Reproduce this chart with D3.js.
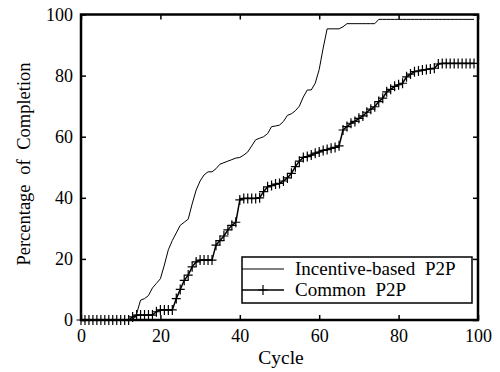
<!DOCTYPE html>
<html>
<head>
<meta charset="utf-8">
<script src="https://cdn.jsdelivr.net/npm/d3@7"></script>
<style>
	body { margin: 0; background: #fff; }
</style>
</head>
<body>
<svg id="chart" width="500" height="372"></svg>
<script>

// cycles 0..99
var cycles = d3.range(0, 100);

var incentiveValues = [
	0, 0, 0, 0, 0, 0, 0, 0, 0, 0,
	0, 0, 0, 0, 2, 6.5, 7, 8, 10.5, 12,
	13.5, 18, 23, 26, 28.5, 31, 32, 33, 38, 42.5,
	45.5, 47.5, 48.5, 48.5, 49.5, 51, 51.5, 52, 52.5, 53,
	53.2, 54, 55, 57, 59, 59.5, 60, 61, 63.3, 63.5,
	63.8, 65, 67, 67.5, 68.5, 70, 73, 75.3, 75.3, 77.5,
	82, 89, 95.3, 95.3, 95.3, 95.3, 96, 97, 97, 97,
	97, 97, 97, 97, 97, 98.4, 98.4, 98.4, 98.4, 98.4,
	98.4, 98.4, 98.4, 98.4, 98.4, 98.4, 98.4, 98.4, 98.4, 98.4,
	98.4, 98.4, 98.4, 98.4, 98.4, 98.4, 98.4, 98.4, 98.4, 98.4
];

var commonValues = [
	0, 0, 0, 0, 0, 0, 0, 0, 0, 0,
	0, 0, 0, 1, 1.6, 1.6, 1.6, 1.6, 1.6, 2.7,
	3.3, 3.3, 3.3, 3.3, 7, 10, 13, 14.7, 17.4, 19,
	19.6, 19.6, 19.6, 19.6, 24.5, 26, 27.5, 29.5, 31, 32,
	39.3, 39.8, 39.8, 39.8, 39.8, 40, 42, 43.6, 44, 44.5,
	44.7, 45.5, 46.5, 48, 50.2, 52, 53.2, 53.5, 54, 54.6,
	55, 55.5, 55.8, 56.2, 56.5, 57, 62.2, 63.3, 64.4, 65,
	66, 66.8, 68, 69, 69.8, 71.5, 72.6, 74.7, 75.5, 76.5,
	77, 77.5, 79.6, 80.5, 81.3, 81.5, 81.8, 82, 82.2, 82.4,
	83.8, 84, 84, 84, 84, 84, 84, 84, 84, 84
];

var seriesNames = ["Incentive-based P2P", "Common P2P"];
var xTicks = [0, 20, 40, 60, 80, 100];
var yTicks = [0, 20, 40, 60, 80, 100];

var serif = "'Liberation Serif', 'Times New Roman', Times, 'DejaVu Serif', serif";

renderChart("#chart");

function renderChart(element) {

	var svg = d3.select(element);

	var pLeft = 81, pRight = 478, pTop = 14.5, pBottom = 320;

	var x = d3.scaleLinear().domain([0, 100]).range([pLeft, pRight]);
	var y = d3.scaleLinear().domain([0, 100]).range([pBottom, pTop]);

	function styleTicks(g) {
		g.attr("font-family", null).attr("font-size", null);
		g.select(".domain").remove();
		g.selectAll("text").style("font-size", "18px").style("font-family", serif).attr("fill", "#000");
		g.selectAll("line").attr("stroke-width", 1.5);
	}

	// axes: bottom/left labelled, top/right ticks only, all ticks inward
	svg.append("g")
		.attr("transform", "translate(0," + pBottom + ")")
		.call(d3.axisBottom(x).tickValues(xTicks).tickSize(-5).tickPadding(9).tickFormat(d3.format("d")))
		.call(styleTicks);

	svg.append("g")
		.attr("transform", "translate(" + pLeft + ",0)")
		.call(d3.axisLeft(y).tickValues(yTicks).tickSize(-5).tickPadding(8).tickFormat(d3.format("d")))
		.call(styleTicks);

	svg.append("g")
		.attr("transform", "translate(0," + pTop + ")")
		.call(d3.axisTop(x).tickValues(xTicks).tickSize(-5).tickFormat(""))
		.call(styleTicks);

	svg.append("g")
		.attr("transform", "translate(" + pRight + ",0)")
		.call(d3.axisRight(y).tickValues(yTicks).tickSize(-5).tickFormat(""))
		.call(styleTicks);

	// lines
	var line = d3.line()
		.x(function(d, i) { return x(cycles[i]); })
		.y(function(d) { return y(d); });

	svg.append("path")
		.datum(incentiveValues)
		.attr("d", line)
		.attr("fill", "none")
		.attr("stroke", "#000")
		.attr("stroke-width", 1);

	svg.append("path")
		.datum(commonValues)
		.attr("d", line)
		.attr("fill", "none")
		.attr("stroke", "#000")
		.attr("stroke-width", 1.5);

	svg.append("g")
		.selectAll("path")
		.data(commonValues)
		.enter()
		.append("path")
		.attr("d", function(d, i) { return plusPath(x(cycles[i]), y(d), 4.5, 5); })
		.attr("stroke", "#000")
		.attr("stroke-width", 1.2);

	// frame
	svg.append("rect")
		.attr("x", pLeft)
		.attr("y", pTop)
		.attr("width", pRight - pLeft)
		.attr("height", pBottom - pTop)
		.attr("fill", "none")
		.attr("stroke", "#000")
		.attr("stroke-width", 2.5);

	// legend
	var legend = svg.append("g");

	legend.append("rect")
		.attr("x", 242)
		.attr("y", 257)
		.attr("width", 230)
		.attr("height", 46)
		.attr("fill", "#fff")
		.attr("stroke", "#000")
		.attr("stroke-width", 1.5);

	var rowY = [269, 290];

	legend.append("line")
		.attr("x1", 242).attr("x2", 284)
		.attr("y1", rowY[0]).attr("y2", rowY[0])
		.attr("stroke", "#000").attr("stroke-width", 1);

	legend.append("line")
		.attr("x1", 242).attr("x2", 284)
		.attr("y1", rowY[1]).attr("y2", rowY[1])
		.attr("stroke", "#000").attr("stroke-width", 1.5);

	legend.append("path")
		.attr("d", plusPath(263, rowY[1], 4.5, 5))
		.attr("stroke", "#000").attr("stroke-width", 1.2);

	legend.selectAll("text")
		.data(seriesNames)
		.enter()
		.append("text")
		.attr("x", 295)
		.attr("y", function(d, i) { return rowY[i] + 6; })
		.style("font-family", serif)
		.style("font-size", "19px")
		.style("word-spacing", "5px")
		.text(function(d) { return d; });

	// axis titles
	svg.append("text")
		.attr("x", 281)
		.attr("y", 364)
		.attr("text-anchor", "middle")
		.style("font-family", serif)
		.style("font-size", "19.5px")
		.text("Cycle");

	svg.append("text")
		.attr("transform", "translate(30,164) rotate(-90)")
		.attr("text-anchor", "middle")
		.style("font-family", serif)
		.style("font-size", "18.5px")
		.style("word-spacing", "5px")
		.text("Percentage of Completion");

}

function plusPath(cx, cy, w, h) {
	return "M" + (cx - w) + "," + cy + "H" + (cx + w) + "M" + cx + "," + (cy - h) + "V" + (cy + h);
}

</script>
</body>
</html>
